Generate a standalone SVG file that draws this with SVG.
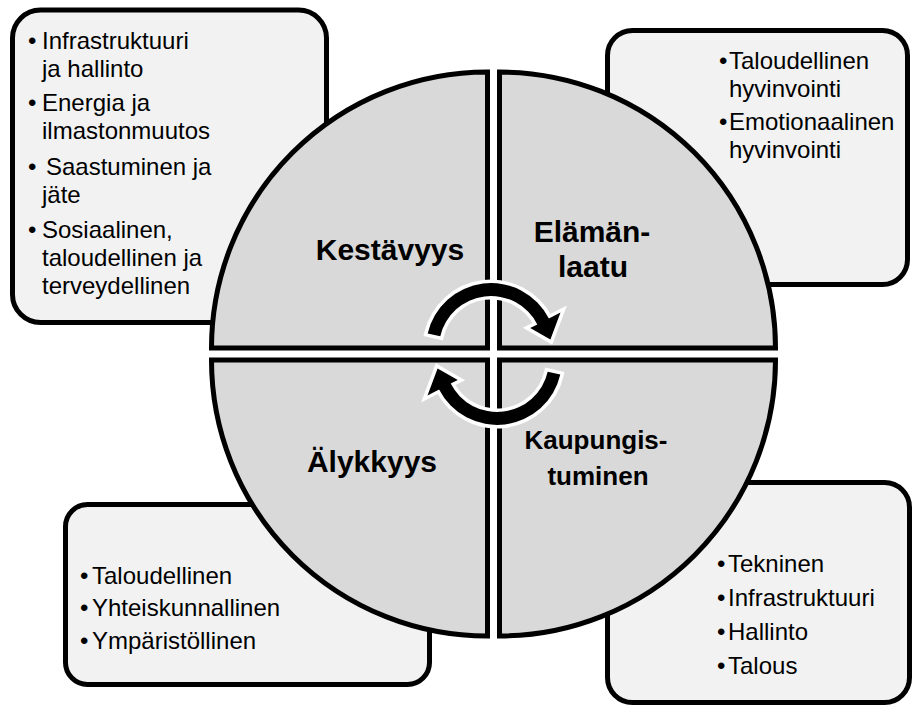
<svg xmlns="http://www.w3.org/2000/svg" width="912" height="706" viewBox="0 0 912 706">
<style>
.box{fill:#f2f2f2;stroke:#000;stroke-width:5}
.quad{fill:#d9d9d9;stroke:#000;stroke-width:5;stroke-linejoin:miter}
.t{font-family:"Liberation Sans",Arial,sans-serif;font-size:24px;fill:#000}
.lbl{font-family:"Liberation Sans",Arial,sans-serif;font-weight:bold;font-size:30px;fill:#000;text-anchor:middle}
.lbl2{font-size:26px}
.arrow{fill:#000;stroke:#fff;stroke-width:7;paint-order:stroke;stroke-linejoin:miter}
</style>
<rect width="912" height="706" fill="#fff"/>
<g id="box-kestavyys">
<rect class="box" x="12.5" y="10" width="314" height="312.5" rx="28"/>
<text class="t"><tspan x="28" y="49">•</tspan><tspan x="42" y="49">Infrastruktuuri</tspan></text>
<text class="t" x="42" y="77">ja hallinto</text>
<text class="t"><tspan x="28" y="111">•</tspan><tspan x="42" y="111">Energia ja</tspan></text>
<text class="t" x="42" y="139">ilmastonmuutos</text>
<text class="t"><tspan x="28" y="175">•</tspan><tspan x="46" y="175">Saastuminen ja</tspan></text>
<text class="t" x="42" y="203">jäte</text>
<text class="t"><tspan x="28" y="238">•</tspan><tspan x="42" y="238">Sosiaalinen,</tspan></text>
<text class="t" x="42" y="266">taloudellinen ja</text>
<text class="t" x="42" y="294">terveydellinen</text>
</g>
<g id="box-elamanlaatu">
<rect class="box" x="607.5" y="30.5" width="300" height="254" rx="25"/>
<text class="t"><tspan x="719" y="69">•</tspan><tspan x="729" y="69">Taloudellinen</tspan></text>
<text class="t" x="729" y="97">hyvinvointi</text>
<text class="t"><tspan x="719" y="130">•</tspan><tspan x="729" y="130">Emotionaalinen</tspan></text>
<text class="t" x="729" y="158">hyvinvointi</text>
</g>
<g id="box-alykkyys">
<rect class="box" x="65.5" y="504.5" width="364" height="180" rx="22"/>
<text class="t"><tspan x="80" y="584">•</tspan><tspan x="92" y="584">Taloudellinen</tspan></text>
<text class="t"><tspan x="80" y="616">•</tspan><tspan x="92" y="616">Yhteiskunnallinen</tspan></text>
<text class="t"><tspan x="80" y="649">•</tspan><tspan x="92" y="649">Ympäristöllinen</tspan></text>
</g>
<g id="box-kaupungistuminen">
<rect class="box" x="607.5" y="482.5" width="302" height="220" rx="25"/>
<text class="t"><tspan x="717" y="572">•</tspan><tspan x="728" y="572">Tekninen</tspan></text>
<text class="t"><tspan x="717" y="606">•</tspan><tspan x="728" y="606">Infrastruktuuri</tspan></text>
<text class="t"><tspan x="717" y="640">•</tspan><tspan x="728" y="640">Hallinto</tspan></text>
<text class="t"><tspan x="717" y="674">•</tspan><tspan x="728" y="674">Talous</tspan></text>
</g>
<g id="quad-kestavyys">
<path class="quad" d="M487.5,348 L211.5,348 A276,276 0 0 1 487.5,72 Z"/>
<text class="lbl" x="390" y="260">Kestävyys</text>
</g>
<g id="quad-elamanlaatu">
<path class="quad" d="M499.5,348 L499.5,72 A276,276 0 0 1 775.5,348 Z"/>
<text class="lbl" x="592" y="242">Elämän-</text>
<text class="lbl" x="593" y="277">laatu</text>
</g>
<g id="quad-kaupungistuminen">
<path class="quad" d="M499.5,360 L775.5,360 A276,276 0 0 1 499.5,636 Z"/>
<text class="lbl lbl2" x="596" y="449">Kaupungis-</text>
<text class="lbl lbl2" x="598" y="485">tuminen</text>
</g>
<g id="quad-alykkyys">
<path class="quad" d="M487.5,360 L487.5,636 A276,276 0 0 1 211.5,360 Z"/>
<text class="lbl" x="372" y="472">Älykkyys</text>
</g>
<g id="connectors">
<path id="arrow-top" class="arrow" d="M427.7,333.4 A65,65 0 0 1 548.9,318.5 L560.5,312.6 L550.4,339.6 L530.2,328 L537.3,324.4 A52,52 0 0 0 440.3,336.3 Z"/>
<path id="arrow-bottom" class="arrow" transform="rotate(180 494 354)" d="M427.7,333.4 A65,65 0 0 1 548.9,318.5 L560.5,312.6 L550.4,339.6 L530.2,328 L537.3,324.4 A52,52 0 0 0 440.3,336.3 Z"/>
</g>
</svg>
